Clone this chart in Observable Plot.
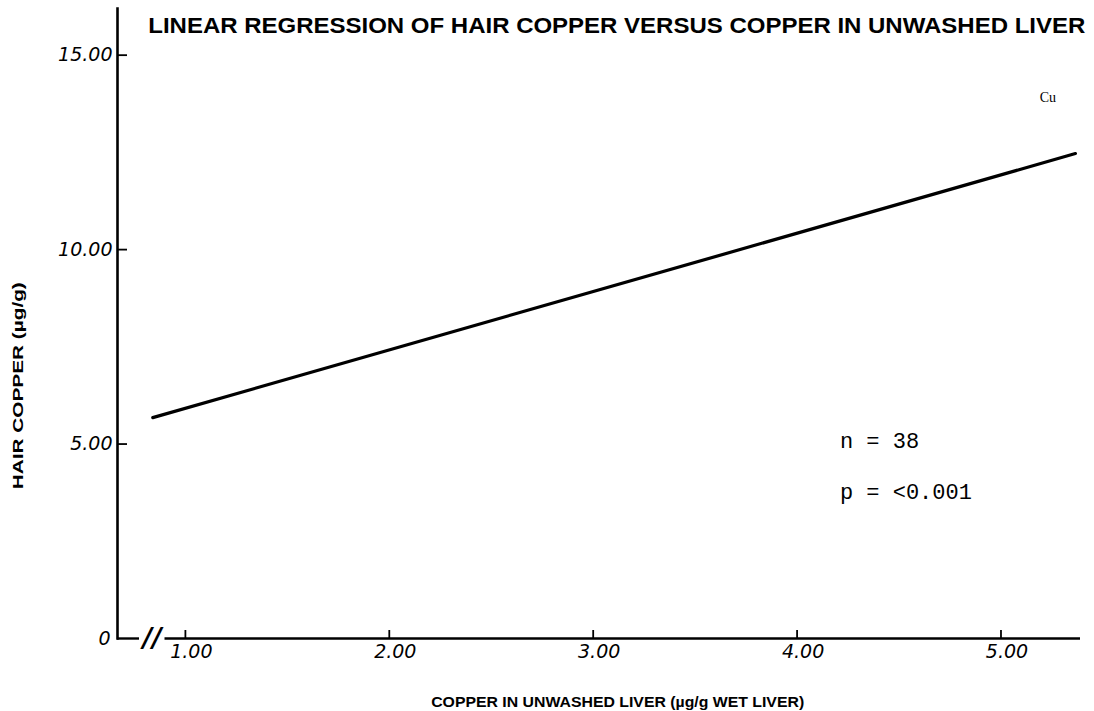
<!DOCTYPE html>
<html><head><meta charset="utf-8">
<script src="https://cdn.jsdelivr.net/npm/d3@7"></script>
<script src="https://cdn.jsdelivr.net/npm/@observablehq/plot@0.6"></script>
<style>
body{margin:0;background:#fff}
#chart{width:1094px;height:711px}
</style>
</head><body><div id="chart"></div>
<script>
// ---- data ----
const titleText = "LINEAR REGRESSION OF HAIR COPPER VERSUS COPPER IN UNWASHED LIVER";
const xLabel = "COPPER IN UNWASHED LIVER (µg/g WET LIVER)";
const yLabel = "HAIR COPPER (µg/g)";
const xTicks = [1, 2, 3, 4, 5];
const xTickLabels = ["1.00", "2.00", "3.00", "4.00", "5.00"];
const yTicks = [5, 10, 15];
const yTickLabels = ["5.00", "10.00", "15.00"];
const zeroLabel = "0";
const lineX = [0.84, 5.365];   // copper in unwashed liver
const lineY = [5.68, 12.47];   // fitted hair copper
const elementLabel = "Cu";
const statLabels = ["n = 38", "p = <0.001"];

// ---- layout helpers (annotation anchors in data units) ----
const xDomain = [0.667, 5.39];
const yDomain = [0, 16.2];
const statX = 4.21, statY = [5.09, 3.78];
const breakX = [0.775, 0.9];

const fitted = lineX.map((x, i) => ({x, y: lineY[i]}));
const stats = statLabels.map((t, i) => ({t, y: statY[i]}));
const fmtX = d => xTickLabels[xTicks.indexOf(d)];
const fmtY = d => yTickLabels[yTicks.indexOf(d)];
const hand = "'DejaVu Sans', sans-serif";

const chart = Plot.plot({
  width: 1094, height: 711,
  marginLeft: 117, marginRight: 14, marginTop: 8, marginBottom: 73,
  x: {domain: xDomain, axis: null},
  y: {domain: yDomain, axis: null},
  style: {fontFamily: "'Liberation Sans', Arial, sans-serif", background: "#fff", color: "#000"},
  marks: [
    // axis lines
    Plot.frame({anchor: "left", stroke: "#000", strokeWidth: 2.6}),
    Plot.ruleY([0], {x1: xDomain[0], x2: breakX[0], stroke: "#000", strokeWidth: 2.4}),
    Plot.ruleY([0], {x1: breakX[1], x2: xDomain[1], stroke: "#000", strokeWidth: 2.4}),
    Plot.text(["//"], {x: (breakX[0] + breakX[1]) / 2, y: 0, fontSize: 26, fontWeight: "bold", fontStyle: "italic", fontFamily: hand, fill: "#000"}),
    // ticks (inward)
    Plot.axisY({ticks: yTicks, label: null, tickSize: 10, dx: 10, tickFormat: () => "", stroke: "#000", strokeWidth: 1.8}),
    Plot.axisX({ticks: xTicks, label: null, tickSize: 8, dy: -8, tickFormat: () => "", stroke: "#000", strokeWidth: 1.8}),
    // tick labels (handwritten style)
    Plot.axisY({ticks: yTicks, label: null, tickSize: 0, tickPadding: 5, tickFormat: fmtY, fontSize: 19, fontStyle: "italic", fontFamily: hand, fill: "#000"}),
    Plot.axisX({ticks: xTicks, label: null, tickSize: 0, tickPadding: 6, dx: 6, tickFormat: fmtX, fontSize: 19, fontStyle: "italic", fontFamily: hand, fill: "#000"}),
    Plot.text([zeroLabel], {x: xDomain[0], y: 0, dx: -13, fontSize: 19, fontStyle: "italic", fontFamily: hand, fill: "#000"}),
    // regression line
    Plot.line(fitted, {x: "x", y: "y", stroke: "#000", strokeWidth: 3.2}),
    // title
    Plot.text([titleText], {x: 0.818, y: 15.58, textAnchor: "start", lineAnchor: "bottom", fontSize: 22, fontWeight: "bold", fill: "#000", className: "ttl"}),
    // axis labels
    Plot.text([xLabel], {x: 3.12, y: -1.75, lineAnchor: "bottom", fontSize: 15, fontWeight: "bold", fill: "#000", className: "xl"}),
    Plot.text([yLabel], {x: 0.181, y: 6.5, rotate: -90, fontSize: 15, fontWeight: "bold", fill: "#000", className: "yl"}),
    // annotations
    Plot.text([elementLabel], {x: 5.23, y: 13.9, fontSize: 14, fontFamily: "'Liberation Serif', serif", fill: "#000"}),
    Plot.text(stats, {x: statX, y: "y", text: "t", textAnchor: "start", fontSize: 22, fontFamily: "'Liberation Mono', monospace", fill: "#000"})
  ]
});
document.getElementById("chart").append(chart);

// stretch long labels to the reference widths
const fit = (cls, len) => d3.select(chart).selectAll(`g.${cls} text`).attr("textLength", len).attr("lengthAdjust", "spacingAndGlyphs");
fit("ttl", 937);
fit("xl", 373);
fit("yl", 207);
</script>
</body></html>
